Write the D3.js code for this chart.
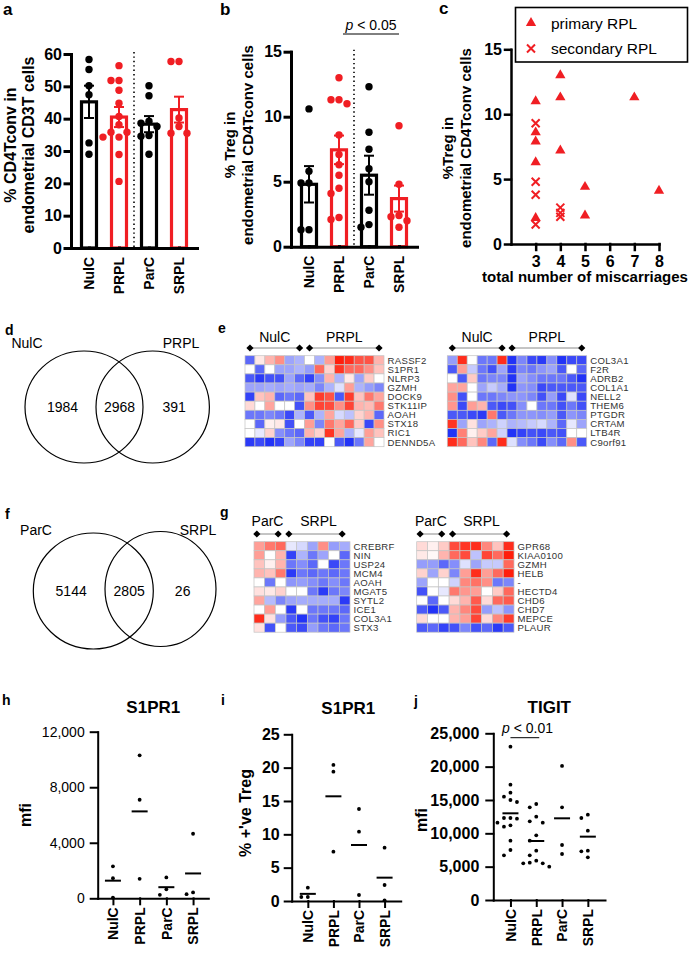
<!DOCTYPE html>
<html><head><meta charset="utf-8">
<script src="https://cdn.jsdelivr.net/npm/d3@7"></script>
<style>
body{margin:0;background:#fff}
svg{display:block}
text{font-family:"Liberation Sans",Arial,sans-serif}
</style></head><body>
<svg id="fig" width="691" height="955"></svg>
<script>
// ---------------- DATA ----------------
const groups = ["NulC","PRPL","ParC","SRPL"];

// panel a: % CD4Tconv in endometrial CD3T cells
const aPoints = [
  [58.3, 55.2, 50.2, 47.4, 32.5, 29.0],
  [56.4, 51.8, 51.8, 48.8, 44.8, 40.7, 38.1, 35.8, 35.8, 34.3, 34.3, 28.9, 20.6],
  [50.2, 47.1, 39.2, 38.6, 37.6, 34.8, 34.6, 29.0],
  [57.7, 57.7, 40.2, 37.6, 35.5, 35.5]
];
const aMeans = [45.2, 40.5, 38.3, 42.8];
const aSems  = [5.0, 3.1, 2.5, 4.0];
const aTicks = [0,10,20,30,40,50,60];

// panel b: % Treg in endometrial CD4Tconv cells
const bPoints = [
  [10.6, 5.8, 4.9, 4.9, 1.3, 1.3],
  [13.0, 11.3, 11.0, 11.3, 8.6, 7.1, 6.3, 5.5, 4.5, 4.1, 2.1, 2.25],
  [12.3, 8.8, 7.5, 6.0, 5.0, 2.8, 1.7, 1.5],
  [9.3, 4.8, 2.4, 2.3, 2.0, 1.5]
];
const bMeans = [4.8, 7.45, 5.5, 3.7];
const bSems  = [1.4, 1.1, 1.5, 1.0];
const bTicks = [0,5,10,15];

// panel c: %Treg vs total number of miscarriages
const cPrimary = [[3,11.0],[3,8.6],[3,7.9],[3,6.3],[3,2.0],[4,13.0],[4,11.3],[4,7.2],[5,4.4],[5,2.2],[7,11.3],[8,4.1]];
const cSecondary = [[3,9.3],[3,4.8],[3,3.8],[3,1.5],[4,2.8],[4,2.4],[4,2.1]];
const cXTicks = [3,4,5,6,7,8];
const cYTicks = [0,5,10,15];
const cLegend = ["primary RPL","secondary RPL"];

// Venn diagrams
const dSets = ["NulC","PRPL"];
const dCounts = [1984, 2968, 391];
const fSets = ["ParC","SRPL"];
const fCounts = [5144, 2805, 26];

// heatmaps (z-scores, blue = low, red = high)
const eLeftGenes = ["RASSF2","S1PR1","NLRP3","GZMH","DOCK9","STK11IP","AOAH","STX18","RIC1","DENND5A"];
const eLeftVals = [
  [-2,0.3,1,1.5,-1.2,-1,0,-1,1.3,3,2.8,2.3,2.3,1],
  [0,-2,0,-1.2,-1.2,-1,-1.3,2,0.6,2.7,2,2,1.5,0.8],
  [-2.2,-2.6,-2.3,-2.3,-1.2,-2,-2.5,-1.5,1,-1,0.3,-1.2,0.7,0],
  [-1.2,-1.2,-1.1,-1.2,-1.1,-1.2,-1.1,-1.6,-1.0,-0.4,1.3,-1.0,-1.3,-1.6],
  [-2.5,0.8,1,-2,-1.8,-2,0.8,2.6,2.3,-2.2,2.6,0.8,1.8,1.2],
  [0.5,0,1.2,0,0,-2.3,1.5,2.5,2.4,1.5,2.5,1,0.9,1.8],
  [-1.8,-1.8,-1.6,-1.8,-2.4,-1.0,-2.2,-1.0,1.2,-0.5,-0.8,0.6,1,-2],
  [0,-2,0.2,0.3,-2.3,0,1.3,-1.6,1.8,1.2,2,0.7,-2.4,1.5],
  [0,-0.3,0.6,-1.5,-1.8,-2,1,0.6,2.7,1.2,-1.0,-0.3,1.3,0.8],
  [-2.6,-2.4,-2.7,-2.5,-1.2,-1.6,-2.5,-2.5,0,-2.2,-2.7,-1.8,1.2,0]
];
const eRightGenes = ["COL3A1","F2R","ADRB2","COL1A1","NELL2","THEM6","PTGDR","CRTAM","LTB4R","C9orf91"];
const eRightVals = [
  [-1.3,2.8,0,-1.8,-1.8,2.8,-2.7,-1.6,-2.4,-2.6,-1.5,-2.7,-2.4,-2.4],
  [-2.2,1.3,-0.7,-1.8,-2.3,-1.2,-2.6,-1.6,-1.8,-1.4,-1.2,-2.2,0,-2.0],
  [0,-2.2,0.7,-1.8,-1.6,-1.6,-2.7,-1.2,-1.5,-1.8,-1.8,-1.8,-2.2,-2.7],
  [1.2,1.2,0,-1.2,-0.7,-1.1,-2.7,-1.4,-1.5,-2.4,-2.2,-2.2,-2.2,-2.2],
  [1.5,-2.3,0,-1.8,-1.8,-1.6,-1.4,-1.4,-1.6,-2.3,-1.3,-2.4,-0.4,-2.4],
  [1.4,-2.4,1.3,1.0,-2.2,-2.4,-2.3,-1.5,0,-1.8,-1.8,-2.3,-1.8,-2.3],
  [-2.2,-2.2,-2.4,-2.6,1.8,-2.2,-1.8,-1.4,-1.4,-1.5,-1.3,-2.2,-1.4,-1.6],
  [2.7,-1.2,0.4,-1.2,-1.0,-0.6,-1.0,-0.9,-0.7,-0.5,-1.0,-2.0,-0.3,-1.2],
  [-2.7,1.7,0.2,0.7,1.2,-0.6,-2.7,-2.5,-2.3,-2.4,-2.2,-2.3,0,0],
  [2.8,2.0,0.8,1.6,-2.0,2.8,-0.4,-1.5,-1.8,-2.4,-1.5,-2.0,1.5,-2.2]
];
const gLeftGenes = ["CREBRF","NIN","USP24","MCM4","AOAH","MGAT5","SYTL2","ICE1","COL3A1","STX3"];
const gLeftVals = [
  [1.3,1.8,2.0,-0.3,-0.5,-1.2,1.5,-1.3,-1.1],
  [1.3,0,1.0,-2.5,-1.0,-1.8,-1.2,0,-2.0],
  [0.8,0.2,1.0,-1.8,-1.5,-2.0,0,-2.4,-1.8],
  [1.0,0.8,1.8,-2.6,-1.8,-2.0,-1.8,-2.0,-1.8],
  [0,-1.8,0,-1.4,-1.3,-1.5,-1.8,-1.5,-1.8],
  [0.4,0.3,0.6,0,0,-1.8,-2.6,-1.8,-1.6],
  [1.2,-0.9,-1.6,-1.2,-1.1,-1.1,-1.1,-1.1,-2.6],
  [0,1.3,0,-2.6,0,-1.8,-1.8,-1.8,-2.0],
  [2.8,0.4,-1.3,-2.2,-2.7,-1.8,-2.3,-2.5,-1.8],
  [0.4,-2.3,0,-2.2,-2.4,-1.3,-1.8,-2.0,-1.8]
];
const gRightGenes = ["GPR68","KIAA0100","GZMH","HELB","-","HECTD4","CHD6","CHD7","MEPCE","PLAUR"];
const gRightVals = [
  [0.5,0.2,0.7,2.4,2.7,2.8,1.6,0.8,2.8],
  [0.3,0.1,1.0,2.0,2.4,-0.8,2.5,2.0,3],
  [-1.3,-1.3,-2.0,-1.5,-0.4,-1.2,-0.7,-0.7,2.0],
  [0.6,-1.2,0.6,-1.6,1.3,2.8,1.3,2.0,3],
  [-1.2,0,0,-0.6,1.6,1.9,1.5,-1.8,-1.6],
  [-2.3,0,-0.3,1.8,1.4,1.3,0,0.7,2.0],
  [0,-2.0,0,0.5,1.0,2.2,0.5,2.0,2.2],
  [-2.2,-2.7,-2.2,1.0,1.6,2.4,-1.3,-0.8,-1.4],
  [0.5,0,0,1.0,1.3,2.5,0.5,1.6,2.6],
  [-2.2,-2.0,-2.5,-2.3,-1.6,-2.3,-2.0,-2.6,-2.2]
];

// panel h: S1PR1 mfi
const hPoints = [[2300,1450,50],[10300,7100,1400],[1500,650,250],[4650,300,420]];
const hMeans = [1270, 6260, 800, 1790];
const hTicks = [0,4000,8000,12000];
// panel i: S1PR1 % +'ve Treg
const iPoints = [[2.0,0.6,0.6],[20.4,19.4,7.4],[13.8,10.4,0.9],[8.0,2.4,0.1]];
const iMeans = [1.07, 15.7, 8.4, 3.5];
const iTicks = [0,5,10,15,20,25];
// panel j: TIGIT mfi
const jPoints = [
  [23000,17300,16100,15500,15000,14700,12300,12300,12200,11600,11200,11000,8900,7500,6700],
  [14400,13900,12500,11800,11600,9700,8900,7400,6700,5900,5600,5500,5500,5000],
  [20100,13900,8250,6900],
  [12800,12300,10400,7400,7300,6400]
];
const jMeans = [13000, 8850, 12250, 9500];
const jTicks = [0,5000,10000,15000,20000,25000];

// ---------------- DRAWING ----------------
const svg = d3.select("#fig");
const RED = "#f01e23", BLK = "#000";
const gColors = [BLK, RED, BLK, RED];
const CAL = "Lato, 'Open Sans', sans-serif";

function txt(t, x, y, o = {}) {
  const s = svg.append("text").attr("x", x).attr("y", y).text(t)
    .attr("font-size", o.size || 14)
    .attr("font-weight", o.bold ? "bold" : "normal")
    .attr("text-anchor", o.anchor || "start")
    .attr("fill", o.fill || "#000");
  if (o.family) s.attr("font-family", o.family);
  if (o.style) s.attr("font-style", o.style);
  return s;
}
function rotText(t, cx, cy, size, bold = true) {
  svg.append("text").attr("transform", `translate(${cx},${cy}) rotate(-90)`)
    .attr("text-anchor", "middle").attr("dy", "0.35em")
    .attr("font-size", size).attr("font-weight", bold ? "bold" : "normal").text(t);
}
function dodge(vals, y, cx, minDist, step) {
  const pts = vals.map(v => ({ v, y: y(v) })).sort((a, b) => a.y - b.y);
  const placed = [];
  const cand = [0];
  for (let i = 1; i < 8; i++) cand.push(-i * step, i * step);
  for (const p of pts) {
    let off = 0;
    for (const o of cand) {
      if (placed.every(q => Math.hypot(q.x - (cx + o), q.y - p.y) >= minDist)) { off = o; break; }
    }
    p.x = cx + off;
    placed.push(p);
  }
  return pts;
}
function styleAxis(g, w, size, bold) {
  g.selectAll("path,line").attr("stroke", "#000").attr("stroke-width", w).attr("stroke-linecap", "square");
  g.selectAll("text").attr("font-size", size).attr("font-weight", bold ? "bold" : "normal")
    .attr("font-family", "'Liberation Sans', Arial, sans-serif").attr("fill", "#000");
}

// ---- bar panels a, b ----
function barPanel(cfg) {
  const y = d3.scaleLinear().domain([0, cfg.yMax]).range([cfg.y0, cfg.y1]);
  const x = d3.scalePoint().domain(groups).range([cfg.xa, cfg.xb]).padding(0.6);
  const g = svg.append("g");
  const xm = (x("PRPL") + x("ParC")) / 2;
  g.append("line").attr("x1", xm).attr("x2", xm).attr("y1", y(cfg.yMax) - 2).attr("y2", y(0))
    .attr("stroke", "#000").attr("stroke-width", 1.6).attr("stroke-dasharray", "1.4 3");
  groups.forEach((k, i) => {
    const cx = x(k), col = gColors[i];
    g.append("rect").attr("x", cx - 7.5).attr("y", y(cfg.means[i]))
      .attr("width", 15).attr("height", y(0) - y(cfg.means[i]))
      .attr("fill", "#fff").attr("stroke", col).attr("stroke-width", 3.2);
    const lo = y(cfg.means[i] - cfg.sems[i]), hi = y(cfg.means[i] + cfg.sems[i]);
    g.append("line").attr("x1", cx).attr("x2", cx).attr("y1", lo).attr("y2", hi).attr("stroke", col).attr("stroke-width", 2);
    [lo, hi].forEach(v => g.append("line").attr("x1", cx - 5).attr("x2", cx + 5).attr("y1", v).attr("y2", v).attr("stroke", col).attr("stroke-width", 2));
    dodge(cfg.points[i], y, cx, 7.6, 8).forEach(p =>
      g.append("circle").attr("cx", p.x).attr("cy", p.y).attr("r", 3.7).attr("fill", col));
  });
  const ya = g.append("g").attr("transform", `translate(${cfg.xa},0)`)
    .call(d3.axisLeft(y).tickValues(cfg.ticks).tickSize(6).tickSizeOuter(0).tickPadding(3));
  styleAxis(ya, 3, 16, true);
  const xa = g.append("g").attr("transform", `translate(0,${y(0)})`)
    .call(d3.axisBottom(x).tickSize(0).tickSizeOuter(0));
  styleAxis(xa, 3, 14, true);
  xa.selectAll("text").attr("transform", "rotate(-90)").attr("text-anchor", "end")
    .attr("x", -9).attr("y", 0).attr("dy", "0.35em");
  cfg.label.forEach((t, i) => rotText(t, cfg.labelX[i], cfg.labelY, cfg.labelSize));
  return { x, y };
}

txt("a", 3, 15, { size: 17, bold: true });
barPanel({ xa: 71, xb: 197, y0: 248, y1: 54, yMax: 60, ticks: aTicks, points: aPoints, means: aMeans, sems: aSems,
  label: ["% CD4Tconv in", "endometrial CD3T cells"], labelX: [10, 28], labelY: 145, labelSize: 16 });

txt("b", 220, 15, { size: 17, bold: true });
const bp = barPanel({ xa: 291, xb: 417, y0: 246.7, y1: 51.7, yMax: 15, ticks: bTicks, points: bPoints, means: bMeans, sems: bSems,
  label: ["% Treg in", "endometrial CD4Tconv cells"], labelX: [230, 248], labelY: 145, labelSize: 15 });
{
  const x1 = bp.x("PRPL") + 4, x2 = bp.x("SRPL");
  svg.append("line").attr("x1", x1).attr("x2", x2).attr("y1", 34).attr("y2", 34).attr("stroke", "#000").attr("stroke-width", 1);
  const t = svg.append("text").attr("x", (x1 + x2) / 2).attr("y", 30).attr("text-anchor", "middle").attr("font-size", 14);
  t.append("tspan").attr("font-style", "italic").text("p");
  t.append("tspan").text(" < 0.05");
}

// ---- panel c ----
txt("c", 439, 14, { size: 17, bold: true });
{
  const x = d3.scaleLinear().domain([2, 8]).range([511, 659]);
  const y = d3.scaleLinear().domain([0, 15]).range([244, 49.3]);
  const ya = svg.append("g").attr("transform", "translate(511,0)")
    .call(d3.axisLeft(y).tickValues(cYTicks).tickSize(6).tickSizeOuter(0).tickPadding(3).tickFormat(d3.format("d")));
  styleAxis(ya, 2.5, 16, true);
  const xa = svg.append("g").attr("transform", "translate(0,244)")
    .call(d3.axisBottom(x).tickValues(cXTicks).tickSize(6).tickSizeOuter(0).tickPadding(6).tickFormat(d3.format("d")));
  styleAxis(xa, 2.5, 16, true);
  const tri = d3.symbol(d3.symbolTriangle).size(46);
  const cross = (px, py, g) => g.append("path")
    .attr("d", `M${px - 4},${py - 4}L${px + 4},${py + 4}M${px - 4},${py + 4}L${px + 4},${py - 4}`)
    .attr("stroke", RED).attr("stroke-width", 2).attr("fill", "none");
  cPrimary.forEach(d => svg.append("path").attr("d", tri()).attr("transform", `translate(${x(d[0])},${y(d[1])})`).attr("fill", RED));
  cSecondary.forEach(d => cross(x(d[0]), y(d[1]), svg));
  // legend
  svg.append("rect").attr("x", 515.5).attr("y", 7.5).attr("width", 172).attr("height", 54.5)
    .attr("fill", "#fff").attr("stroke", "#000").attr("stroke-width", 1.6);
  svg.append("path").attr("d", tri()).attr("transform", "translate(531,23)").attr("fill", RED);
  cross(531, 48.5, svg);
  txt(cLegend[0], 551, 28.5, { size: 15.5 });
  txt(cLegend[1], 551, 54, { size: 15.5 });
  rotText("%Treg in", 447.5, 148, 15);
  rotText("endometrial CD4Tconv cells", 465.5, 148, 15);
  txt("total number of miscarriages", 585, 282, { size: 15, bold: true, anchor: "middle" });
}

// ---- Venn diagrams ----
function venn(sets, counts, L, R, nameY, numY) {
  [L, R].forEach(c => svg.append("ellipse").attr("cx", c.cx).attr("cy", c.cy).attr("rx", c.rx).attr("ry", c.ry)
    .attr("fill", "none").attr("stroke", "#000").attr("stroke-width", 1.2));
  txt(sets[0], L.nx, nameY, { size: 14, family: CAL, anchor: "middle" });
  txt(sets[1], R.nx, nameY, { size: 14, family: CAL, anchor: "middle" });
  const xl = L.cx - L.rx, xi1 = R.cx - R.rx, xi2 = L.cx + L.rx, xr = R.cx + R.rx;
  txt(counts[0], (xl + xi1) / 2 + 2, numY, { size: 14, family: CAL, anchor: "middle" });
  txt(counts[1], (xi1 + xi2) / 2, numY, { size: 14, family: CAL, anchor: "middle" });
  txt(counts[2], (xi2 + xr) / 2 - 2, numY, { size: 14, family: CAL, anchor: "middle" });
}
txt("d", 5, 335, { size: 14, bold: true });
venn(dSets, dCounts, { cx: 84, cy: 407, rx: 59, ry: 56, nx: 27 }, { cx: 152.7, cy: 407, rx: 56.7, ry: 56, nx: 181 }, 347.5, 412);
txt("f", 5, 519, { size: 14, bold: true });
venn(fSets, fCounts, { cx: 93.3, cy: 591, rx: 60, ry: 58, nx: 36 }, { cx: 160.5, cy: 589, rx: 55.5, ry: 57.5, nx: 198 }, 534.5, 596);

// ---- heatmaps ----
const heatColor = d3.scaleLinear().domain([-3, 0, 3]).range(["#0a1cf6", "#ffffff", "#ff1e0c"]).clamp(true);
function heatmap(cfg) {
  const nR = cfg.vals.length, nC = cfg.vals[0].length;
  const x = d3.scaleBand().domain(d3.range(nC)).range([cfg.x0, cfg.x1]);
  const y = d3.scaleBand().domain(d3.range(nR)).range([cfg.y0, cfg.y1]);
  const g = svg.append("g");
  cfg.vals.forEach((row, r) => row.forEach((v, c) => {
    g.append("rect").attr("x", x(c)).attr("y", y(r)).attr("width", x.bandwidth()).attr("height", y.bandwidth())
      .attr("fill", heatColor(v)).attr("stroke", "#c4c4c4").attr("stroke-width", 0.7);
  }));
  cfg.genes.forEach((t, r) => g.append("text").attr("x", cfg.x1 + 3.5).attr("y", y(r) + y.bandwidth() / 2 + 3.4)
    .attr("font-size", 9.6).attr("fill", "#333").attr("letter-spacing", 0.3).text(t));
  const cc = c => x(c) + x.bandwidth() / 2;
  const brackets = [[0, cfg.split - 1], [cfg.split, nC - 1]];
  brackets.forEach((b, i) => {
    const a = cc(b[0]) - (cfg.dOff || 0), e = cc(b[1]) - (cfg.dOff || 0);
    g.append("line").attr("x1", a).attr("x2", e).attr("y1", cfg.by).attr("y2", cfg.by).attr("stroke", "#8a8a8a").attr("stroke-width", 1);
    [a, e].forEach(px => g.append("path").attr("d", `M${px},${cfg.by - 3.6}L${px + 3.6},${cfg.by}L${px},${cfg.by + 3.6}L${px - 3.6},${cfg.by}Z`).attr("fill", "#000"));
    txt(cfg.groups[i], (a + e) / 2 + (cfg.lOff ? cfg.lOff[i] : 0), cfg.ly, { size: 14, family: CAL, anchor: "middle" });
  });
}
txt("e", 218, 333, { size: 14, bold: true });
heatmap({ vals: eLeftVals, genes: eLeftGenes, x0: 245, x1: 384, y0: 355.7, y1: 446.7, split: 6, by: 348, ly: 341.5, groups: dSets });
heatmap({ vals: eRightVals, genes: eRightGenes, x0: 447.3, x1: 586.7, y0: 355.7, y1: 446.7, split: 6, by: 348, ly: 341.5, groups: dSets });
txt("g", 220, 517, { size: 14, bold: true });
heatmap({ vals: gLeftVals, genes: gLeftGenes, x0: 254, x1: 350, y0: 541.7, y1: 632.2, split: 3, by: 534, ly: 525.5, groups: fSets, dOff: 2.5, lOff: [0, 3] });
heatmap({ vals: gRightVals, genes: gRightGenes, x0: 416.7, x1: 514, y0: 541.7, y1: 632.2, split: 3, by: 534, ly: 525.5, groups: fSets, dOff: 2, lOff: [0, 2] });

// ---- dot panels h, i, j ----
function dotPanel(cfg) {
  const y = d3.scaleLinear().domain([0, cfg.yMax]).range([cfg.y0, cfg.y1]);
  const x = d3.scalePoint().domain(groups).range([cfg.xa, cfg.xb]).padding(cfg.pad);
  const g = svg.append("g");
  const ya = g.append("g").attr("transform", `translate(${cfg.xa},0)`)
    .call(d3.axisLeft(y).tickValues(cfg.ticks).tickSize(7).tickSizeOuter(0).tickPadding(cfg.tickPad).tickFormat(d3.format(cfg.fmt)));
  styleAxis(ya, 2, cfg.tickFont, cfg.tickBold);
  const xa = g.append("g").attr("transform", `translate(0,${y(0)})`)
    .call(d3.axisBottom(x).tickSize(6).tickSizeOuter(0));
  styleAxis(xa, 2, 14, true);
  xa.selectAll("text").attr("transform", "rotate(-90)").attr("text-anchor", "end")
    .attr("x", -9).attr("y", 0).attr("dy", "0.35em");
  groups.forEach((k, i) => {
    const cx = x(k);
    g.append("line").attr("x1", cx - 8).attr("x2", cx + 8).attr("y1", y(cfg.means[i])).attr("y2", y(cfg.means[i]))
      .attr("stroke", "#000").attr("stroke-width", 2);
    dodge(cfg.points[i], y, cx, 6.4, 6.5).forEach(p =>
      g.append("circle").attr("cx", p.x).attr("cy", p.y).attr("r", 1.9).attr("fill", "#000"));
  });
  txt(cfg.title, cfg.titleX, cfg.titleY, { size: 17, bold: true, anchor: "middle" });
  rotText(cfg.yLabel, cfg.ylx, cfg.yly, 16);
  return { x, y };
}
txt("h", 2, 705, { size: 14, bold: true });
dotPanel({ xa: 97.7, xb: 208.3, pad: 0.57, y0: 898.3, y1: 731.7, yMax: 12000, ticks: hTicks, fmt: ",", tickFont: 14, tickBold: false, tickPad: 6,
  points: hPoints, means: hMeans, title: "S1PR1", titleX: 153.3, titleY: 713, yLabel: "mfi", ylx: 25, yly: 815 });
txt("i", 221, 705, { size: 14, bold: true });
dotPanel({ xa: 291.7, xb: 400.7, pad: 0.63, y0: 901, y1: 734.3, yMax: 25, ticks: iTicks, fmt: "d", tickFont: 16, tickBold: true, tickPad: 5,
  points: iPoints, means: iMeans, title: "S1PR1", titleX: 348.3, titleY: 714, yLabel: "% +'ve Treg", ylx: 245, yly: 813 });
txt("j", 414, 706, { size: 14, bold: true });
const jp = dotPanel({ xa: 493.3, xb: 605, pad: 0.665, y0: 900, y1: 733.3, yMax: 25000, ticks: jTicks, fmt: ",", tickFont: 16, tickBold: true, tickPad: 7,
  points: jPoints, means: jMeans, title: "TIGIT", titleX: 549.3, titleY: 713, yLabel: "mfi", ylx: 421.7, yly: 820 });
{
  const x1 = jp.x("NulC"), x2 = jp.x("PRPL") + 3;
  svg.append("line").attr("x1", x1).attr("x2", x2).attr("y1", 737.7).attr("y2", 737.7).attr("stroke", "#000").attr("stroke-width", 1);
  const t = svg.append("text").attr("x", 502).attr("y", 733).attr("font-size", 14);
  t.append("tspan").attr("font-style", "italic").text("p");
  t.append("tspan").text(" < 0.01");
}
</script>
</body></html>
